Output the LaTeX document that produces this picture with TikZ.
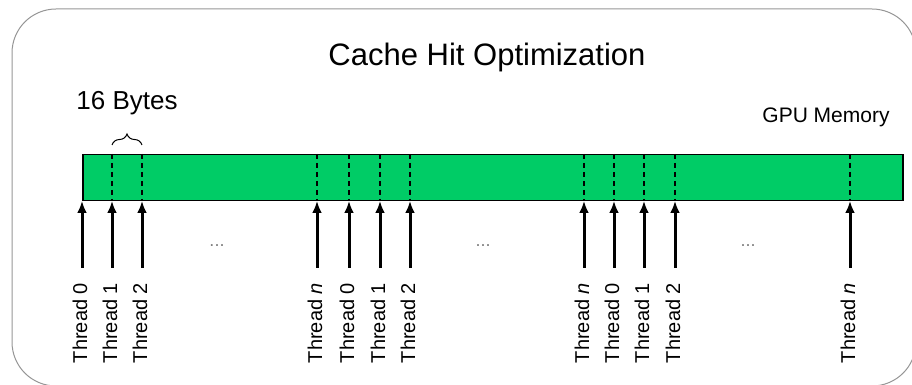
\documentclass[tikz,border=0pt]{standalone}
\usepackage{fontspec}
\setmainfont{Liberation Sans}
\usepackage{tikz}
\usetikzlibrary{arrows.meta,decorations.pathreplacing}
\usepackage{xcolor}
\definecolor{memgreen}{RGB}{0,204,102}
\definecolor{framegray}{RGB}{150,150,150}

\tikzset{
  thr/.style={line width=1.5pt, -{Latex[length=6pt,width=5pt]}, shorten <=7.5pt},
  lbl/.style={rotate=90, anchor=east, inner sep=0pt, outer sep=0pt, font=\fontsize{10}{12}\selectfont},
  slot/.style={line width=0.75pt, dash pattern=on 2.5pt off 2pt},
  gap/.style={anchor=base, text=gray, font=\fontsize{9}{11}\selectfont},
}

\begin{document}
\begin{tikzpicture}[x=0.5pt,y=-0.5pt]
\useasboundingbox (0,0) rectangle (912,385);
\clip (0,0) rectangle (912,385);
% frame
\draw [framegray, line width=0.5pt, rounded corners=22pt] (12,9) rectangle (916,386);
\node (title) [anchor=base, font=\fontsize{15.5}{18}\selectfont] at (487,66) {Cache Hit Optimization};
\node (size) [anchor=base, font=\fontsize{13}{15}\selectfont] at (127,110) {16 Bytes};
\node (gpu) [anchor=base, font=\fontsize{10.5}{12}\selectfont] at (826,123) {GPU Memory};
% memory strip
\node (mem) [draw, line width=0.75pt, fill=memgreen, anchor=north west, inner sep=0pt,
  minimum width=410pt, minimum height=23pt] at (82,154) {};
\foreach \x in {112,142,317,349,380,410,584,614,644,675,850}
  \draw [slot] (\x,154) -- (\x,200);
\coordinate (b1) at (112,145);
\coordinate (b2) at (142,145);
\draw [line width=0.5pt, decorate, decoration={brace, amplitude=5.5pt}] (b1) -- (b2);
% threads
\foreach \x/\t [count=\i] in {82/0, 112/1, 142/2, 317/\textit{n}, 349/0, 380/1, 410/2,
    584/\textit{n}, 614/0, 644/1, 675/2, 850/\textit{n}} {
  \coordinate (p\i) at (\x,201);
  \node (t\i) [lbl] at (\x-2,283) {Thread \t};
  \draw [thr] (t\i.east -| p\i) -- (p\i);
}
\node (d1) [gap] at (217,247) {...};
\node (d2) [gap] at (483,247) {...};
\node (d3) [gap] at (748,247) {...};
\end{tikzpicture}
\end{document}
